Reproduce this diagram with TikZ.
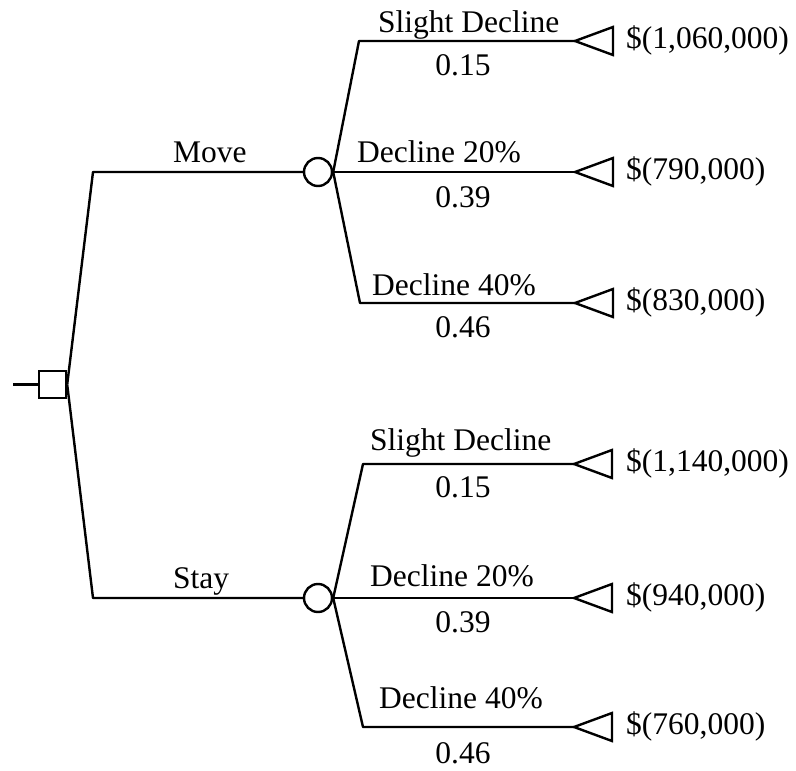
\documentclass[tikz,border=0pt]{standalone}
\usepackage{fontspec}
\setmainfont{Liberation Serif}
\begin{document}
\begin{tikzpicture}[x=1pt,y=-1pt,
  lbl/.style={inner sep=0pt, font=\fontsize{31.5}{36}\selectfont},
  edge/.style={line width=2.4pt, line join=round},
  chance/.style={circle, draw, line width=2.4pt, minimum size=28pt, inner sep=0pt, fill=white},
  decision/.style={rectangle, draw, line width=2.4pt, minimum size=27pt, inner sep=0pt, fill=white},
  endtri/.pic={\draw[line width=2.4pt, line join=miter] (0,0) -- (38,-14) -- (38,14) -- cycle;}
]
\useasboundingbox (0,0) rectangle (796,771);

% decision node
\node[decision] (D) at (52.5,384.5) {};
\coordinate (stub) at (13,384.5);
\coordinate (mv) at (93,172);
\coordinate (st) at (93,598);

% chance nodes
\node[chance] (C1) at (318,172) {};
\node[chance] (C2) at (318,598) {};

% corners of chance branches
\coordinate (m1) at (359,41);
\coordinate (m3) at (360,303);
\coordinate (s1) at (363,464);
\coordinate (s3) at (363,727);

% terminal tips
\coordinate (t1) at (575,41);
\coordinate (t2) at (575,172);
\coordinate (t3) at (575,303);
\coordinate (t4) at (574,464);
\coordinate (t5) at (574,598);
\coordinate (t6) at (574,727);

% connectors
\draw[edge] (stub) -- (D.west);
\draw[edge] (D.east) -- (mv) -- (C1.west);
\draw[edge] (D.east) -- (st) -- (C2.west);
\draw[edge] (C1.east) -- (m1) -- (t1);
\draw[edge] (C1.east) -- (t2);
\draw[edge] (C1.east) -- (m3) -- (t3);
\draw[edge] (C2.east) -- (s1) -- (t4);
\draw[edge] (C2.east) -- (t5);
\draw[edge] (C2.east) -- (s3) -- (t6);

% terminal triangles
\foreach \t in {t1,t2,t3,t4,t5,t6} \pic at (\t) {endtri};

% decision labels
\node[lbl, anchor=base west] (lmove) at (173,162) {Move};
\node[lbl, anchor=base west] (lstay) at (173,588) {Stay};

% Move branches
\node[lbl, anchor=base west] (a1) at (378,32) {Slight Decline};
\node[lbl, anchor=base] (p1) at (463,75) {0.15};
\node[lbl, anchor=base west] (a2) at (357,162) {Decline 20\%};
\node[lbl, anchor=base] (p2) at (463,207) {0.39};
\node[lbl, anchor=base west] (a3) at (372,295) {Decline 40\%};
\node[lbl, anchor=base] (p3) at (463,337) {0.46};

% Stay branches
\node[lbl, anchor=base west] (b1) at (370,450) {Slight Decline};
\node[lbl, anchor=base] (q1) at (463,497) {0.15};
\node[lbl, anchor=base west] (b2) at (370,586) {Decline 20\%};
\node[lbl, anchor=base] (q2) at (463,632) {0.39};
\node[lbl, anchor=base west] (b3) at (379,708) {Decline 40\%};
\node[lbl, anchor=base] (q3) at (463,763) {0.46};

% payoffs
\node[lbl, anchor=base west] (v1) at (626,48) {\$(1,060,000)};
\node[lbl, anchor=base west] (v2) at (626,179) {\$(790,000)};
\node[lbl, anchor=base west] (v3) at (626,310) {\$(830,000)};
\node[lbl, anchor=base west] (v4) at (626,471) {\$(1,140,000)};
\node[lbl, anchor=base west] (v5) at (626,605) {\$(940,000)};
\node[lbl, anchor=base west] (v6) at (626,734) {\$(760,000)};
\end{tikzpicture}
\end{document}
